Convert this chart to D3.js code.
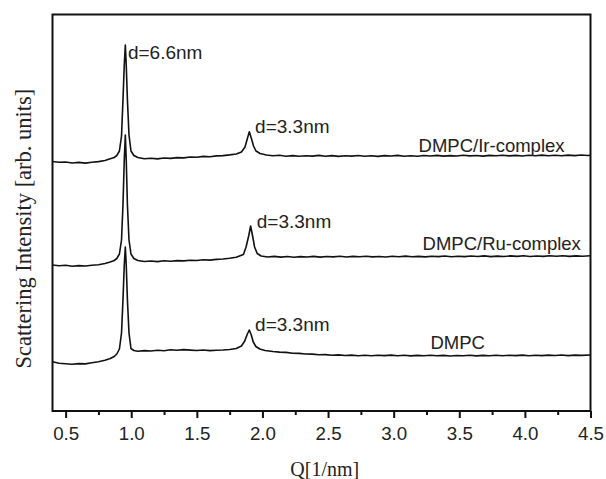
<!DOCTYPE html>
<html>
<head>
<meta charset="utf-8">
<script src="https://cdn.jsdelivr.net/npm/d3@7"></script>
<style>
  body { margin: 0; background: #ffffff; }
  svg { display: block; }
</style>
</head>
<body>
<div id="chart"></div>
<script>
// Scattering intensity vs Q, three stacked curves. Values are [Q (1/nm), intensity (arb. units)]
var irComplex = [
  [0.40, 249.5], [0.45, 248.7], [0.50, 249.0], [0.55, 248.0], [0.60, 248.6], [0.65, 247.9],
  [0.70, 248.8], [0.75, 249.4], [0.80, 250.5], [0.84, 252.2], [0.87, 253.5], [0.89, 255.5],
  [0.91, 260.0], [0.926, 275.0], [0.937, 311.0], [0.947, 346.0], [0.955, 366.0], [0.962, 346.0],
  [0.971, 311.0], [0.983, 276.0], [0.998, 260.0], [1.02, 255.5], [1.05, 253.5], [1.10, 252.2],
  [1.15, 252.8], [1.20, 252.1], [1.25, 253.0], [1.30, 252.6], [1.35, 253.4], [1.40, 253.1],
  [1.45, 254.0], [1.50, 253.7], [1.55, 254.6], [1.60, 254.2], [1.65, 255.1], [1.70, 255.4],
  [1.75, 256.1], [1.80, 257.0], [1.84, 259.0], [1.867, 264.0], [1.882, 271.0], [1.90, 279.3],
  [1.917, 272.0], [1.932, 265.0], [1.951, 260.0], [1.982, 257.5], [2.03, 256.0], [2.08, 255.2],
  [2.13, 255.7], [2.18, 254.8], [2.23, 255.4], [2.28, 254.7], [2.33, 255.3], [2.38, 254.9],
  [2.43, 255.6], [2.48, 254.8], [2.53, 255.4], [2.58, 254.6], [2.63, 255.2], [2.68, 254.9],
  [2.73, 255.5], [2.78, 254.7], [2.83, 255.3], [2.88, 254.6], [2.93, 255.4], [2.98, 255.0],
  [3.03, 255.6], [3.08, 254.8], [3.13, 255.3], [3.18, 254.7], [3.23, 255.5], [3.28, 255.0],
  [3.33, 255.6], [3.38, 254.9], [3.43, 255.4], [3.48, 255.0], [3.53, 255.7], [3.58, 255.1],
  [3.63, 255.5], [3.68, 254.9], [3.73, 255.6], [3.78, 255.2], [3.83, 255.8], [3.88, 255.1],
  [3.93, 255.6], [3.98, 255.0], [4.03, 255.7], [4.08, 255.2], [4.13, 255.9], [4.18, 255.3],
  [4.23, 255.8], [4.28, 255.2], [4.33, 255.9], [4.38, 255.4], [4.43, 256.0], [4.48, 255.5],
  [4.50, 255.8]
];

var ruComplex = [
  [0.40, 146.0], [0.45, 145.2], [0.50, 145.7], [0.55, 144.8], [0.60, 145.4], [0.65, 145.0],
  [0.70, 145.8], [0.75, 146.2], [0.80, 147.5], [0.84, 149.0], [0.87, 150.5], [0.89, 152.5],
  [0.91, 157.0], [0.926, 171.0], [0.937, 206.0], [0.947, 251.0], [0.955, 276.0], [0.962, 251.0],
  [0.971, 206.0], [0.983, 171.0], [0.998, 157.0], [1.02, 152.5], [1.05, 150.5], [1.10, 149.5],
  [1.15, 150.0], [1.20, 149.4], [1.25, 150.2], [1.30, 149.8], [1.35, 150.4], [1.40, 150.1],
  [1.45, 150.8], [1.50, 150.5], [1.55, 151.2], [1.60, 150.9], [1.65, 151.6], [1.70, 152.0],
  [1.75, 152.7], [1.80, 153.8], [1.855, 156.5], [1.875, 164.0], [1.895, 175.0], [1.91, 185.0],
  [1.925, 175.0], [1.94, 164.0], [1.96, 157.5], [1.99, 155.0], [2.04, 154.0], [2.09, 154.6],
  [2.14, 153.9], [2.19, 154.5], [2.24, 153.8], [2.29, 154.4], [2.34, 154.0], [2.39, 154.6],
  [2.44, 153.9], [2.49, 154.5], [2.54, 154.1], [2.59, 154.7], [2.64, 154.0], [2.69, 154.6],
  [2.74, 154.2], [2.79, 154.8], [2.84, 154.1], [2.89, 154.5], [2.94, 154.0], [2.99, 154.7],
  [3.04, 154.3], [3.09, 154.9], [3.14, 154.2], [3.19, 154.6], [3.24, 154.1], [3.29, 154.8],
  [3.34, 154.4], [3.39, 155.0], [3.44, 154.3], [3.49, 154.8], [3.54, 154.4], [3.59, 155.0],
  [3.64, 154.5], [3.69, 155.1], [3.74, 154.4], [3.79, 154.9], [3.84, 154.5], [3.89, 155.1],
  [3.94, 154.6], [3.99, 155.2], [4.04, 154.5], [4.09, 155.0], [4.14, 154.6], [4.19, 155.2],
  [4.24, 154.7], [4.29, 155.3], [4.34, 154.6], [4.39, 155.1], [4.44, 154.8], [4.50, 155.2]
];

var dmpc = [
  [0.40, 49.3], [0.45, 47.8], [0.50, 47.2], [0.55, 46.7], [0.60, 47.4], [0.65, 47.1],
  [0.70, 48.2], [0.75, 49.2], [0.80, 50.7], [0.84, 52.5], [0.87, 54.5], [0.89, 57.0],
  [0.91, 62.0], [0.926, 78.0], [0.937, 111.0], [0.947, 146.0], [0.955, 164.0], [0.962, 146.0],
  [0.971, 111.0], [0.983, 78.0], [0.998, 62.5], [1.02, 60.5], [1.05, 59.8], [1.10, 60.4],
  [1.15, 60.0], [1.20, 60.8], [1.25, 60.3], [1.30, 61.2], [1.35, 60.7], [1.40, 61.4],
  [1.45, 60.9], [1.50, 60.5], [1.55, 61.0], [1.60, 60.4], [1.65, 60.8], [1.70, 61.0],
  [1.75, 61.5], [1.80, 62.5], [1.84, 65.0], [1.865, 70.0], [1.885, 77.0], [1.90, 81.0],
  [1.915, 76.0], [1.93, 69.0], [1.95, 64.5], [1.98, 62.0], [2.02, 60.5], [2.08, 59.5],
  [2.13, 58.9], [2.18, 58.6], [2.23, 57.8], [2.28, 57.6], [2.33, 57.0], [2.38, 56.9],
  [2.43, 56.3], [2.48, 56.4], [2.53, 55.8], [2.58, 56.1], [2.63, 55.5], [2.68, 55.9],
  [2.73, 55.3], [2.78, 55.7], [2.83, 55.2], [2.88, 55.8], [2.93, 55.4], [2.98, 55.9],
  [3.03, 55.3], [3.08, 55.7], [3.13, 55.1], [3.18, 55.6], [3.23, 55.2], [3.28, 55.8],
  [3.33, 55.3], [3.38, 55.6], [3.43, 55.0], [3.48, 55.5], [3.53, 55.2], [3.58, 55.7],
  [3.63, 55.1], [3.68, 55.6], [3.73, 55.3], [3.78, 55.8], [3.83, 55.2], [3.88, 55.7],
  [3.93, 55.4], [3.98, 55.9], [4.03, 55.3], [4.08, 55.8], [4.13, 55.4], [4.18, 55.9],
  [4.23, 55.5], [4.28, 56.0], [4.33, 55.4], [4.38, 55.9], [4.43, 55.6], [4.50, 56.0]
];

var majorTicks = [0.5, 1.0, 1.5, 2.0, 2.5, 3.0, 3.5, 4.0, 4.5];
var minorTicks = [0.75, 1.25, 1.75, 2.25, 2.75, 3.25, 3.75, 4.25];

// text labels: [text, Q, intensity] at the text baseline
var seriesLabels = [
  ["DMPC/Ir-complex", 3.19, 259.5],
  ["DMPC/Ru-complex", 3.22, 161.0],
  ["DMPC", 3.28, 62.0]
];
var peakLabels = [
  ["d=6.6nm", 0.975, 352.0],
  ["d=3.3nm", 1.944, 278.0],
  ["d=3.3nm", 1.957, 183.0],
  ["d=3.3nm", 1.944, 80.5]
];

var chart = (function() {

    var width = 606, height = 479;
    var margin = {top: 14.5, right: 15.5, bottom: 68, left: 52.5};
    var plotW = width - margin.left - margin.right;
    var plotH = height - margin.top - margin.bottom;

    var svg = d3.select("#chart").append("svg")
        .attr("width", width)
        .attr("height", height);

    var x = d3.scaleLinear().domain([0.4, 4.5]).range([0, plotW]);
    var y = d3.scaleLinear().domain([0, 396.5]).range([plotH, 0]);

    var g = svg.append("g")
        .attr("transform", "translate(" + margin.left + "," + margin.top + ")");

    // curves
    var line = d3.line()
        .x(function(d) { return x(d[0]); })
        .y(function(d) { return y(d[1]); });

    [irComplex, ruComplex, dmpc].forEach(function(series) {
        g.append("path")
            .datum(series)
            .attr("fill", "none")
            .attr("stroke", "#111")
            .attr("stroke-width", 1.6)
            .attr("stroke-linejoin", "round")
            .attr("d", line);
    });

    // minor ticks first, no labels
    g.append("g")
        .attr("transform", "translate(0," + plotH + ")")
        .call(d3.axisBottom(x).tickValues(minorTicks).tickSize(4).tickFormat(""))
        .call(function(a) { a.select(".domain").remove(); })
        .selectAll("line").attr("stroke", "#111").attr("stroke-width", 2);

    var xAxis = g.append("g")
        .attr("transform", "translate(0," + plotH + ")")
        .call(d3.axisBottom(x).tickValues(majorTicks).tickSize(7).tickPadding(9)
            .tickFormat(d3.format(".1f")));
    xAxis.select(".domain").remove();
    xAxis.selectAll("line").attr("stroke", "#111").attr("stroke-width", 2);
    xAxis.selectAll("text")
        .attr("fill", "#222")
        .style("font-family", "Arial, 'Liberation Sans', sans-serif")
        .style("font-size", "18.7px");

    // frame
    g.append("rect")
        .attr("width", plotW)
        .attr("height", plotH)
        .attr("fill", "none")
        .attr("stroke", "#111")
        .attr("stroke-width", 2);

    // annotations
    var labelFont = "Arial, 'Liberation Sans', sans-serif";
    g.selectAll("text.series-label")
        .data(seriesLabels)
        .enter().append("text")
        .attr("class", "series-label")
        .attr("x", function(d) { return x(d[1]); })
        .attr("y", function(d) { return y(d[2]); })
        .style("font-family", labelFont)
        .style("font-size", "18.5px")
        .attr("fill", "#222")
        .text(function(d) { return d[0]; });

    g.selectAll("text.peak-label")
        .data(peakLabels)
        .enter().append("text")
        .attr("class", "peak-label")
        .attr("x", function(d) { return x(d[1]); })
        .attr("y", function(d) { return y(d[2]); })
        .style("font-family", labelFont)
        .style("font-size", "19px")
        .attr("fill", "#222")
        .text(function(d) { return d[0]; });

    // axis titles
    svg.append("text")
        .attr("x", margin.left + x(2.475))
        .attr("y", 476)
        .attr("text-anchor", "middle")
        .style("font-family", "'Times New Roman', 'Liberation Serif', serif")
        .style("font-size", "20px")
        .attr("fill", "#222")
        .text("Q[1/nm]");

    svg.append("text")
        .attr("transform", "translate(31," + (margin.top + plotH * 0.54) + ") rotate(-90)")
        .attr("text-anchor", "middle")
        .style("font-family", "'Times New Roman', 'Liberation Serif', serif")
        .style("font-size", "22.5px")
        .attr("fill", "#222")
        .text("Scattering Intensity [arb. units]");

    return svg;
})();
</script>
</body>
</html>
